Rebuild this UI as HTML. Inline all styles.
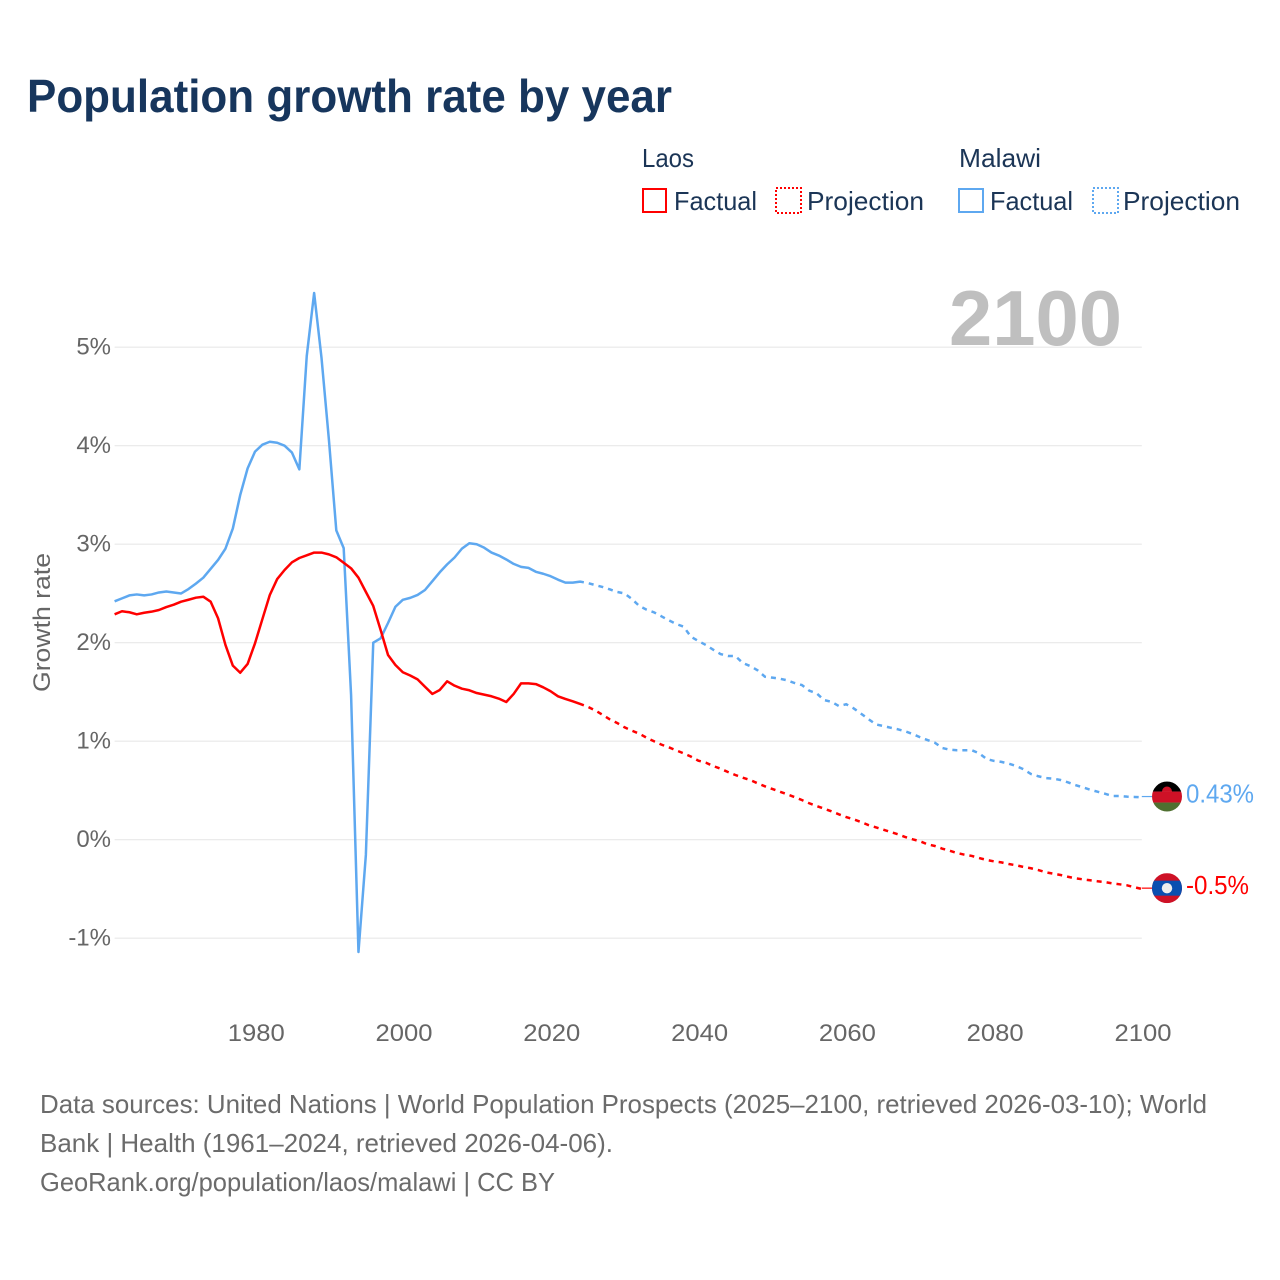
<!DOCTYPE html>
<html lang="en">
<head>
<meta charset="utf-8">
<title>Population growth rate by year</title>
<style>
  html, body { margin: 0; padding: 0; background: #fff; }
  svg { display: block; font-family: "Liberation Sans", "DejaVu Sans", sans-serif; }
</style>
</head>
<body>
<svg id="chart" xmlns="http://www.w3.org/2000/svg" width="1280" height="1280" viewBox="0 0 1280 1280">
  <rect x="0" y="0" width="1280" height="1280" fill="#ffffff"/>
  <text x="27" y="112" font-size="46" font-weight="700" fill="#17365d" textLength="645" lengthAdjust="spacingAndGlyphs">Population growth rate by year</text>

  <g font-size="26" fill="#1b3556">
    <text x="642" y="167" textLength="52" lengthAdjust="spacingAndGlyphs">Laos</text>
    <text x="959" y="167" textLength="82" lengthAdjust="spacingAndGlyphs">Malawi</text>
    <rect x="643" y="189" width="23" height="23" fill="none" stroke="#ff0000" stroke-width="2"/>
    <text x="674" y="210" textLength="83" lengthAdjust="spacingAndGlyphs">Factual</text>
    <rect x="776" y="188" width="25" height="25" fill="none" stroke="#ff0000" stroke-width="2" stroke-dasharray="2 2"/>
    <text x="807" y="210" textLength="117" lengthAdjust="spacingAndGlyphs">Projection</text>
    <rect x="959" y="189" width="24" height="23" fill="none" stroke="#5ea8f0" stroke-width="2"/>
    <text x="990" y="210" textLength="83" lengthAdjust="spacingAndGlyphs">Factual</text>
    <rect x="1093" y="188" width="25" height="25" fill="none" stroke="#5ea8f0" stroke-width="2" stroke-dasharray="2 2"/>
    <text x="1123" y="210" textLength="117" lengthAdjust="spacingAndGlyphs">Projection</text>
  </g>

  <g id="grid"></g>
  <text x="949" y="345" font-size="78" font-weight="700" fill="#bfbfbf" textLength="173" lengthAdjust="spacingAndGlyphs">2100</text>
  <g id="y-ticks" font-size="24" fill="#666666" text-anchor="end"></g>
  <g id="x-ticks" font-size="24" fill="#666666" text-anchor="middle"></g>
  <text transform="translate(50 692) rotate(-90)" font-size="24" fill="#666666" textLength="139" lengthAdjust="spacingAndGlyphs">Growth rate</text>

  <g id="series"></g>

  <defs>
    <clipPath id="flag-clip"><circle cx="0" cy="0" r="15"/></clipPath>
  </defs>
  <g id="flag-malawi">
    <g clip-path="url(#flag-clip)">
      <rect x="-15" y="-15" width="30" height="10" fill="#000000"/>
      <path d="M-5 -5 A5 5 0 0 1 5 -5 Z" fill="#ce1126"/>
      <rect x="-15" y="-5" width="30" height="11" fill="#ce1126"/>
      <rect x="-15" y="6" width="30" height="9" fill="#4f7030"/>
    </g>
  </g>
  <g id="flag-laos">
    <g clip-path="url(#flag-clip)">
      <rect x="-15" y="-15" width="30" height="30" fill="#ce1126"/>
      <rect x="-15" y="-7.5" width="30" height="15" fill="#0a4fb0"/>
      <circle cx="0" cy="0" r="5.2" fill="#eeeeee"/>
    </g>
  </g>
  <text id="label-malawi" x="1186" font-size="26" fill="#5ea8f0" textLength="68" lengthAdjust="spacingAndGlyphs"></text>
  <text id="label-laos" x="1186" font-size="26" fill="#ff0000" textLength="63" lengthAdjust="spacingAndGlyphs"></text>

  <g font-size="26" fill="#6b6b6b">
    <text x="40" y="1113" textLength="1167" lengthAdjust="spacingAndGlyphs">Data sources: United Nations | World Population Prospects (2025–2100, retrieved 2026-03-10); World</text>
    <text x="40" y="1152" textLength="573" lengthAdjust="spacingAndGlyphs">Bank | Health (1961–2024, retrieved 2026-04-06).</text>
    <text x="40" y="1191" textLength="515" lengthAdjust="spacingAndGlyphs">GeoRank.org/population/laos/malawi | CC BY</text>
  </g>
</svg>
<script>
const firstFactualYear = 1961;
const firstProjectionYear = 2025;
const junctionYear = 2024.5;
const yTickValues = [5, 4, 3, 2, 1, 0, -1];
const yTickLabels = ["5%", "4%", "3%", "2%", "1%", "0%", "-1%"];
const xTickYears = [1980, 2000, 2020, 2040, 2060, 2080, 2100];
const endLabelMalawi = "0.43%";
const endLabelLaos = "-0.5%";

const malawiFactual = [
  2.42, 2.45, 2.48, 2.49, 2.48, 2.49, 2.51, 2.52, 2.51, 2.50,
  2.545, 2.60, 2.66, 2.75, 2.84, 2.955, 3.16, 3.50, 3.77, 3.94,
  4.01, 4.04, 4.03, 4.00, 3.93, 3.76, 4.91, 5.55, 4.89, 4.06,
  3.14, 2.96, 1.47, -1.14, -0.155, 2.00, 2.045, 2.20, 2.365, 2.435,
  2.455, 2.485, 2.535, 2.625, 2.715, 2.795, 2.865, 2.955, 3.01, 3.00,
  2.965, 2.915, 2.885, 2.845, 2.80, 2.77, 2.76, 2.72, 2.70, 2.675,
  2.64, 2.61, 2.61, 2.62
];
const malawiProjection = [
  2.606, 2.586, 2.566, 2.542, 2.515, 2.50, 2.444, 2.373, 2.335, 2.308,
  2.268, 2.227, 2.19, 2.163, 2.06, 2.017, 1.977, 1.929, 1.885, 1.865,
  1.865, 1.794, 1.763, 1.72, 1.655, 1.645, 1.635, 1.618, 1.591, 1.57,
  1.513, 1.486, 1.418, 1.40, 1.357, 1.375, 1.334, 1.28, 1.225, 1.171,
  1.154, 1.137, 1.121, 1.10, 1.073, 1.04, 1.012, 0.985, 0.931, 0.914,
  0.908, 0.908, 0.908, 0.877, 0.819, 0.80, 0.79, 0.772, 0.748, 0.715,
  0.667, 0.644, 0.626, 0.62, 0.606, 0.583, 0.555, 0.532, 0.508, 0.487,
  0.467, 0.444, 0.444, 0.437, 0.434, 0.43
];
const laosFactual = [
  2.288, 2.319, 2.309, 2.288, 2.304, 2.315, 2.332, 2.362, 2.386, 2.416,
  2.436, 2.457, 2.467, 2.416, 2.248, 1.977, 1.767, 1.695, 1.784, 1.994,
  2.24, 2.484, 2.646, 2.738, 2.816, 2.86, 2.887, 2.915, 2.915, 2.897,
  2.867, 2.812, 2.755, 2.66, 2.516, 2.373, 2.129, 1.875, 1.774, 1.70,
  1.667, 1.628, 1.553, 1.48, 1.52, 1.608, 1.564, 1.533, 1.517, 1.489,
  1.473, 1.456, 1.432, 1.398, 1.48, 1.587, 1.587, 1.58, 1.547, 1.507,
  1.456, 1.429, 1.405, 1.378
];
const laosProjection = [
  1.35, 1.314, 1.269, 1.222, 1.185, 1.141, 1.107, 1.076, 1.035, 0.999,
  0.965, 0.938, 0.907, 0.877, 0.843, 0.802, 0.782, 0.748, 0.721, 0.687,
  0.657, 0.63, 0.606, 0.573, 0.542, 0.515, 0.488, 0.461, 0.433, 0.403,
  0.37, 0.342, 0.315, 0.288, 0.258, 0.23, 0.207, 0.18, 0.149, 0.126,
  0.102, 0.078, 0.055, 0.027, 0.004, -0.016, -0.047, -0.064, -0.091, -0.112,
  -0.135, -0.152, -0.165, -0.186, -0.206, -0.22, -0.23, -0.247, -0.26, -0.277,
  -0.29, -0.308, -0.331, -0.345, -0.358, -0.376, -0.392, -0.402, -0.412, -0.422,
  -0.43, -0.443, -0.453, -0.463, -0.483, -0.5
];

const SVG_NS = "http://www.w3.org/2000/svg";
const plotLeft = 114.6;
const plotRight = 1141.8;
const xScale = (plotRight - plotLeft) / (2100 - 1961);
const yZero = 839.7;
const yUnit = 98.5;
const flagCenterX = 1167;
const flagRadius = 15;

function xOf(year) { return plotLeft + (year - 1961) * xScale; }
function yOf(value) { return yZero - value * yUnit; }

function pathFrom(points) {
  return points.map((p, i) => (i ? "L" : "M") + xOf(p[0]).toFixed(2) + " " + yOf(p[1]).toFixed(2)).join(" ");
}

function newEl(tag, parent) {
  const el = document.createElementNS(SVG_NS, tag);
  parent.appendChild(el);
  return el;
}

function drawSeries(factual, projection, color, key) {
  const group = document.getElementById("series");
  const lastFactual = factual[factual.length - 1];
  const junctionValue = lastFactual + (projection[0] - lastFactual) * (junctionYear - (firstFactualYear + factual.length - 1));
  const solidPts = factual.map((v, i) => [firstFactualYear + i, v]);
  solidPts.push([junctionYear, junctionValue]);
  const dashPts = [[junctionYear, junctionValue]].concat(projection.map((v, i) => [firstProjectionYear + i, v]));

  const solid = newEl("path", group);
  
  
  solid.setAttribute("d", pathFrom(solidPts));
  solid.setAttribute("fill", "none");
  solid.setAttribute("stroke", color);
  solid.setAttribute("stroke-width", "2.5");
  solid.setAttribute("stroke-linejoin", "round");

  const dashed = newEl("path", group);
  
  
  dashed.setAttribute("d", pathFrom(dashPts));
  dashed.setAttribute("fill", "none");
  dashed.setAttribute("stroke", color);
  dashed.setAttribute("stroke-width", "2.5");
  dashed.setAttribute("stroke-dasharray", "5 5");
  dashed.setAttribute("stroke-dashoffset", "5");

  const lastValue = projection[projection.length - 1];
  const connector = newEl("line", group);
  
  
  connector.setAttribute("x1", xOf(2100));
  connector.setAttribute("x2", flagCenterX - flagRadius);
  connector.setAttribute("y1", yOf(lastValue) - 0.8);
  connector.setAttribute("y2", yOf(lastValue) - 0.8);
  connector.setAttribute("stroke", color);
  connector.setAttribute("stroke-width", "1.2");

  document.getElementById("flag-" + key).setAttribute("transform", "translate(" + flagCenterX + " " + (yOf(lastValue) - 0.8) + ")");
  document.getElementById("label-" + key).setAttribute("y", yOf(lastValue) + 5);
}

const gridGroup = document.getElementById("grid");
const yTickGroup = document.getElementById("y-ticks");
yTickValues.forEach((v, i) => {
  const gl = newEl("line", gridGroup);
  
  
  gl.setAttribute("x1", plotLeft);
  gl.setAttribute("x2", plotRight);
  gl.setAttribute("y1", yOf(v));
  gl.setAttribute("y2", yOf(v));
  gl.setAttribute("stroke", "#e8e8e8");
  gl.setAttribute("stroke-width", "1.2");

  const t = newEl("text", yTickGroup);
  
  
  t.setAttribute("x", 111);
  t.setAttribute("y", yOf(v) + 7.5);
  t.textContent = yTickLabels[i];
});

const xTickGroup = document.getElementById("x-ticks");
xTickYears.forEach((yr) => {
  const t = newEl("text", xTickGroup);
  
  
  t.setAttribute("x", xOf(yr) + 1.2);
  t.setAttribute("y", 1041);
  t.setAttribute("textLength", "57");
  t.setAttribute("lengthAdjust", "spacingAndGlyphs");
  t.textContent = String(yr);
});

drawSeries(malawiFactual, malawiProjection, "#5ea8f0", "malawi");
drawSeries(laosFactual, laosProjection, "#ff0000", "laos");
document.getElementById("label-malawi").textContent = endLabelMalawi;
document.getElementById("label-laos").textContent = endLabelLaos;
</script>
</body>
</html>
